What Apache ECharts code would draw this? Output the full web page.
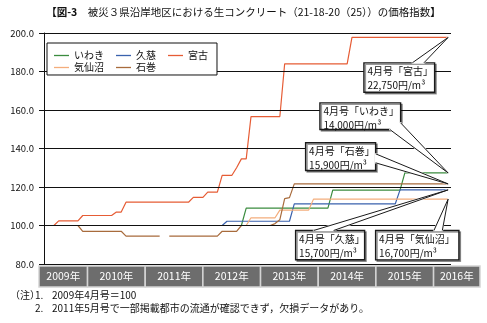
<!DOCTYPE html>
<html><head><meta charset="utf-8">
<script src="https://cdn.jsdelivr.net/npm/echarts@6/dist/echarts.min.js"></script>
<style>html,body{margin:0;padding:0;background:#fff}#c{width:487px;height:323px}</style>
</head><body><div id="c"></div>
<script>
// Monthly index: 0 = 2009年4月号 ... 84 = 2016年4月号
const cities = ['いわき', '久慈', '宮古', '気仙沼', '石巻'];
const aprPrices = ['14,000', '15,700', '22,750', '16,700', '15,900'];
const years = ['2009年', '2010年', '2011年', '2012年', '2013年', '2014年', '2015年', '2016年'];
const yTicks = [80, 100, 120, 140, 160, 180, 200];

const iwaki = [
100,100,100,100,100,100,100,100,100,100,
100,100,100,100,100,100,100,100,100,100,
100,100,100,100,100,100,100,100,100,100,
100,100,100,100,100,100,100,100,100,100,
100,100,109,109,109,109,109,109,109,109,
109,109,109,109,109,109,109,109,109,109,
118.4,118.4,118.4,118.4,118.4,118.4,118.4,118.4,118.4,118.4,
118.4,118.4,118.4,118.4,118.4,127.3,127.3,127.3,127.3,127.3,
127.3,127.3,127.3,127.3,127.3
];
const kuji = [
100,100,100,100,100,100,100,100,100,100,
100,100,100,100,100,100,100,100,100,100,
100,100,100,100,100,100,100,100,100,100,
100,100,100,100,100,100,100,100,102.2,102.2,
102.2,102.2,102.2,102.2,102.2,102.2,102.2,102.2,102.2,102.2,
102.2,102.2,111.2,111.2,111.2,111.2,111.2,111.2,111.2,111.2,
111.2,111.2,111.2,111.2,111.2,111.2,111.2,111.2,111.2,111.2,
111.2,111.2,111.2,111.2,118.5,118.5,118.5,118.5,118.5,118.5,
118.5,118.5,118.5,118.5,118.5
];
const miyako = [
100,100,100,102.4,102.4,102.4,102.4,102.4,105.2,105.2,
105.2,105.2,105.2,105.2,105.2,107,107,112.1,112.1,112.1,
112.1,112.1,112.1,112.1,112.1,112.1,112.1,112.1,112.1,112.1,
112.1,114.6,114.6,114.6,117.3,117.3,117.3,126,126,126,
130,134.6,134.6,156.6,156.6,156.6,156.6,156.6,156.6,156.6,
184,184,184,184,184,184,184,184,184,184,
184,184,184,184,197.7,197.7,197.7,197.7,197.7,197.7,
197.7,197.7,197.7,197.7,197.7,197.7,197.7,197.7,197.7,197.7,
197.7,197.7,197.7,197.7,197.7
];
const kesennuma = [
100,100,100,100,100,100,100,100,100,100,
100,100,100,100,100,100,100,100,100,100,
100,100,100,100,100,100,100,100,100,100,
100,100,100,100,100,100,100,100,100,100,
100,100,100,104,104,104,104,104,104,108,
108,108,108,108,108,108,113.7,113.7,113.7,113.7,
113.7,113.7,113.7,113.7,113.7,113.7,113.7,113.7,113.7,113.7,
113.7,113.7,113.7,113.7,113.7,113.7,113.7,113.7,113.7,113.7,
113.7,113.7,113.7,113.7,113.7
];
const ishinomaki = [
100,100,100,100,100,100,100,100,97,97,
97,97,97,97,97,97,97,94.5,94.5,94.5,
94.5,94.5,94.5,94.5,94.5,null,94.5,94.5,94.5,94.5,
94.5,94.5,94.5,94.5,94.5,94.5,94.5,97,97,97,
97,100,100,100,100,100,100,100,101,103,
114,114.5,121.6,121.6,121.6,121.6,121.6,121.6,121.6,121.6,
121.6,121.6,121.6,121.6,121.6,121.6,121.6,121.6,121.6,121.6,
121.6,121.6,121.6,121.6,121.6,121.6,121.6,121.6,121.6,121.6,
121.6,121.6,121.6,121.6,121.6
];

const seriesValues = [iwaki, kuji, miyako, kesennuma, ishinomaki];
const colors = ['#3b8c3f', '#3a62ad', '#e65c35', '#f4ad7c', '#a86b3c'];
const FONT = "'Noto Sans CJK JP', 'Noto Sans', sans-serif";

const xMin = -1.1, xMax = 84.6, bandMax = 90.66;

// callout box layout (pixel offsets from the line end), by city index
const calloutLayout = {
  2: {dx: -84.2, dy: 25.4, w: 70.7, h: 29.4, a: [48.4, 0], b: [60, 0]},
  0: {dx: -128.2, dy: -70.1, w: 80.7, h: 26.7, a: [70, 26.7], b: [80.7, 20]},
  4: {dx: -142.5, dy: -41.1, w: 70, h: 27.7, a: [70, 11], b: [70, 20]},
  1: {dx: -152.5, dy: 40.6, w: 69, h: 29.3, a: [18, 0], b: [38, 0]},
  3: {dx: -72.5, dy: 31.4, w: 83.3, h: 29.3, a: [58.3, 0], b: [66.7, 0]}
};
const calloutOrder = [2, 0, 4, 1, 3];

const lineSeries = cities.map((name, k) => ({
  name, type: 'line', xAxisIndex: 0, yAxisIndex: 0,
  data: seriesValues[k].map((v, i) => [i, v]),
  symbol: 'none', connectNulls: false,
  lineStyle: {color: colors[k], width: 1.2},
  itemStyle: {color: colors[k]},
  z: 2, animation: false
}));

const calloutSeries = {
  type: 'custom', xAxisIndex: 0, yAxisIndex: 0, z: 10, clip: false, animation: false,
  data: calloutOrder.map(k => [seriesValues[k].length - 1, seriesValues[k][seriesValues[k].length - 1], k]),
  renderItem(params, api) {
    const k = api.value(2);
    const L = calloutLayout[k];
    const tip = api.coord([api.value(0), api.value(1)]);
    const bx = tip[0] + L.dx, by = tip[1] + L.dy;
    const a = [bx + L.a[0], by + L.a[1]], b = [bx + L.b[0], by + L.b[1]];
    return {type: 'group', children: [
      {type: 'rect', shape: {x: bx, y: by, width: L.w, height: L.h},
       style: {fill: '#fff', stroke: '#1a1a1a', lineWidth: 1.4, shadowColor: 'rgba(0,0,0,0.4)', shadowOffsetX: 1.5, shadowOffsetY: 1.5, shadowBlur: 0}},
      {type: 'polygon', shape: {points: [a, b, tip]},
       style: {fill: '#fff', stroke: '#fff', lineWidth: 1.6, lineJoin: 'round'}},
      {type: 'polyline', shape: {points: [a, tip, b]},
       style: {fill: null, stroke: '#1a1a1a', lineWidth: 1, lineJoin: 'round'}},
      {type: 'text', style: {text: '4月号「' + cities[k] + '」\n' + aprPrices[k] + '円/m³',
        x: bx + 3.5, y: by + 2, fill: '#111', font: '10px ' + FONT, lineHeight: 13.5}}
    ]};
  }
};

const bandSeries = {
  type: 'custom', xAxisIndex: 1, yAxisIndex: 1, clip: false, animation: false,
  data: years.map((y, i) => [i]),
  renderItem(params, api) {
    const i = api.value(0);
    const s = Math.max(i * 12 - 3, xMin), e = Math.min(i * 12 + 9, bandMax);
    const p0 = api.coord([s, 1]), p1 = api.coord([e, 0]);
    return {type: 'group', children: [
      {type: 'rect', shape: {x: p0[0], y: p0[1], width: p1[0] - p0[0], height: p1[1] - p0[1]},
       style: {fill: '#6d6d6d', stroke: '#d4d4d4', lineWidth: 1.5}},
      {type: 'text', style: {text: years[i], x: (p0[0] + p1[0]) / 2, y: (p0[1] + p1[1]) / 2,
        align: 'center', verticalAlign: 'middle', fill: '#fff', font: '10.5px ' + FONT}}
    ]};
  }
};

const legendCommon = {
  orient: 'horizontal', icon: 'rect', itemWidth: 15, itemHeight: 1.3, itemGap: 12,
  textStyle: {fontSize: 10, color: '#111', fontFamily: FONT}
};

const chart = echarts.init(document.getElementById('c'), null, {renderer: 'canvas'});
chart.setOption({
  animation: false,
  backgroundColor: '#fff',
  textStyle: {fontFamily: FONT},
  title: {
    text: '{b|【図-3}　被災３県沿岸地区における生コンクリート（21-18-20（25））の価格指数{b|】}',
    left: 'center', top: 7, padding: 0,
    textStyle: {fontSize: 10.5, fontWeight: 'normal', color: '#111', fontFamily: FONT,
      rich: {b: {fontSize: 10.5, fontWeight: 'bold', color: '#111', fontFamily: FONT}}}
  },
  legend: [
    Object.assign({data: cities.slice(0, 3), left: 47, top: 43,
     padding: [7.5, 9, 14.5, 7],
     backgroundColor: '#fff', borderColor: '#111', borderWidth: 1, z: 4}, legendCommon),
    Object.assign({data: cities.slice(3), left: 47, top: 55,
     padding: [7.5, 9, 0, 7], z: 5}, legendCommon)
  ],
  grid: [
    {left: 39, top: 33, width: 412, height: 231, containLabel: false},
    {left: 39, top: 266, width: 441, height: 21, containLabel: false}
  ],
  xAxis: [
    {gridIndex: 0, type: 'value', min: xMin, max: xMax, show: false},
    {gridIndex: 1, type: 'value', min: xMin, max: bandMax, show: false}
  ],
  yAxis: [
    {gridIndex: 0, type: 'value', min: yTicks[0], max: yTicks[yTicks.length - 1], interval: 20, z: 3,
     axisLine: {show: true, lineStyle: {color: '#111', width: 1}},
     axisTick: {show: false},
     splitLine: {show: true, lineStyle: {color: '#111', width: 1}},
     axisLabel: {formatter: v => v.toFixed(1), fontSize: 9.5, color: '#111', margin: 5, fontFamily: FONT}},
    {gridIndex: 1, type: 'value', min: 0, max: 1, show: false}
  ],
  series: [...lineSeries, calloutSeries, bandSeries],
  graphic: [
    {type: 'text', left: 10, top: 290, style: {text: '（注）', font: '10px ' + FONT, fill: '#111'}},
    {type: 'text', left: 35, top: 290, style: {text: '1.', font: '10px ' + FONT, fill: '#111'}},
    {type: 'text', left: 52, top: 290, style: {text: '2009年4月号＝100', font: '10px ' + FONT, fill: '#111'}},
    {type: 'text', left: 35, top: 303, style: {text: '2.', font: '10px ' + FONT, fill: '#111'}},
    {type: 'text', left: 52, top: 303, style: {text: '2011年5月号で一部掲載都市の流通が確認できず，欠損データがあり。', font: '10px ' + FONT, fill: '#111'}}
  ]
});
</script>
</body></html>
